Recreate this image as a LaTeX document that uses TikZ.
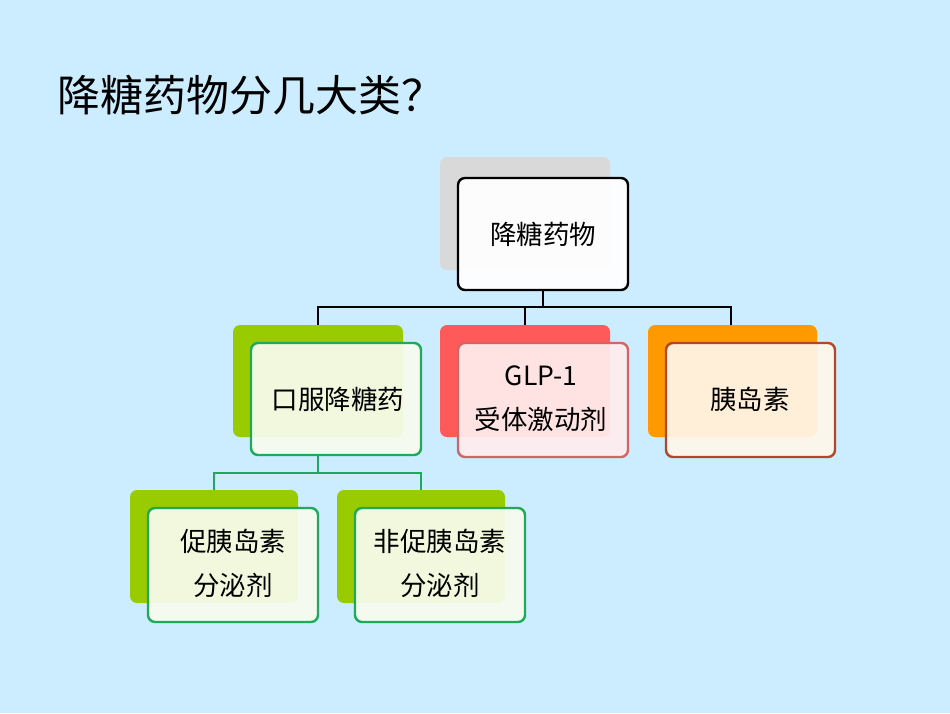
\documentclass[tikz,border=0pt]{standalone}
\usepackage{fontspec}
\setmainfont{Noto Sans CJK SC}
\definecolor{bg}{RGB}{204,236,255}
\definecolor{gr}{RGB}{153,204,0}
\definecolor{grb}{RGB}{30,170,90}
\definecolor{rd}{RGB}{255,90,90}
\definecolor{rdb}{RGB}{210,100,100}
\definecolor{og}{RGB}{255,153,0}
\definecolor{ogb}{RGB}{180,70,40}
\begin{document}
\begin{tikzpicture}[x=1pt,y=-1pt,
 back/.style={rounded corners=7pt},
 front/.style={rounded corners=7pt,line width=2.4pt,fill opacity=0.92},
 lbl/.style={font=\fontsize{26.5}{44}\selectfont,align=center},
 conn/.style={line width=2pt}]
\fill[bg] (0,0) rectangle (950,713);
\useasboundingbox (0,0) rectangle (950,713);
\node[anchor=west,font=\fontsize{43}{50}\selectfont] (t) at (54,95) {降糖药物分几大类？};
% top
\fill[back,fill=black!15] (440,157) rectangle (610,270);
\draw[front,draw=black,fill=white] (458,178) rectangle (628,290);
\node[lbl] (top) at (543,234) {降糖药物};
% level 2 backs
\fill[back,fill=gr] (233,325) rectangle (403,437);
\fill[back,fill=rd] (440,325) rectangle (610,437);
\fill[back,fill=og] (648,325) rectangle (817,437);
\draw[front,draw=grb,fill=white!94!gr] (251,343) rectangle (421,455);
\draw[front,draw=rdb,fill=white!90!rd] (458,343) rectangle (628,457);
\draw[front,draw=ogb,fill=white!92!og] (666,343) rectangle (835,457);
\node[lbl] (a) at (338,399) {口服降糖药};
\node[lbl] (b) at (541,399) {GLP-1\\受体激动剂};
\node[lbl] (c) at (750,399) {胰岛素};
\coordinate (t0) at (543,290);
\coordinate (a0) at (318,325);
\coordinate (b0) at (525,325);
\coordinate (c0) at (731,325);
\draw[conn] (t0) -- (543,307) -| (a0);
\draw[conn] (543,307) -| (b0);
\draw[conn] (543,307) -| (c0);
% level 3
\fill[back,fill=gr] (130,490) rectangle (298,603);
\fill[back,fill=gr] (337,490) rectangle (505,603);
\draw[front,draw=grb,fill=white!94!gr] (148,508) rectangle (318,622);
\draw[front,draw=grb,fill=white!94!gr] (355,508) rectangle (525,622);
\node[lbl] (d) at (233,563) {促胰岛素\\分泌剂};
\node[lbl] (e) at (440,563) {非促胰岛素\\分泌剂};
\coordinate (a1) at (318,455);
\coordinate (d0) at (214,490);
\coordinate (e0) at (421,490);
\draw[conn,draw=grb] (a1) -- (318,473) -| (d0);
\draw[conn,draw=grb] (318,473) -| (e0);
\end{tikzpicture}
\end{document}
